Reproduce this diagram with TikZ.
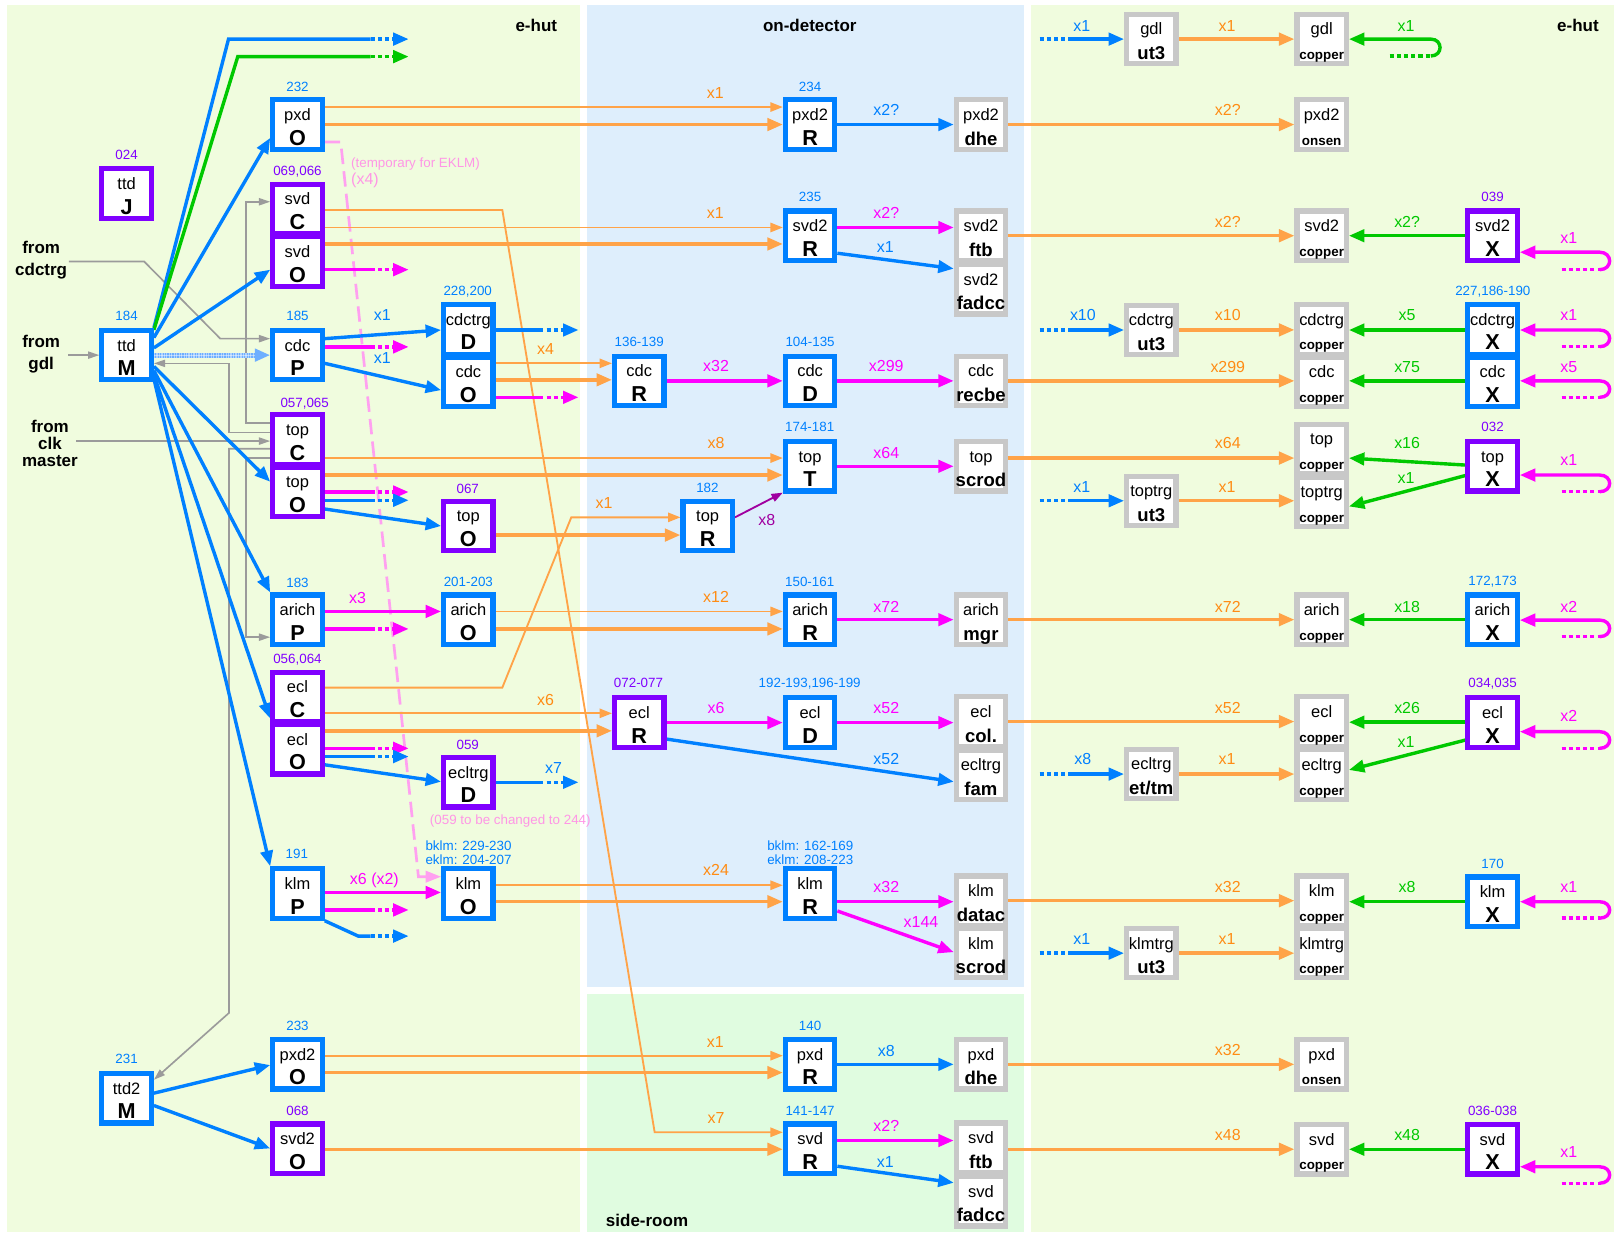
\documentclass[tikz,border=0pt]{standalone}
\usepackage{fontspec}
\setmainfont{Liberation Sans}
\usetikzlibrary{arrows.meta}
\pgfdeclarelayer{bg}
\pgfdeclarelayer{wires}
\pgfsetlayers{bg,wires,main}
\definecolor{cblue}{RGB}{0,128,255}
\definecolor{cpur}{RGB}{128,0,255}
\definecolor{cgbox}{RGB}{200,200,200}
\definecolor{corg}{RGB}{255,163,72}
\definecolor{corgt}{RGB}{255,140,20}
\definecolor{cmag}{RGB}{255,0,255}
\definecolor{cgrn}{RGB}{0,200,0}
\definecolor{cdmag}{RGB}{160,0,160}
\definecolor{cpink}{RGB}{255,160,240}
\definecolor{cpinkt}{RGB}{255,150,230}
\definecolor{cgray}{RGB}{155,155,155}
\definecolor{bgehut}{RGB}{240,252,222}
\definecolor{bgdet}{RGB}{222,238,252}
\definecolor{bgside}{RGB}{224,252,224}
\definecolor{chatch}{RGB}{110,175,255}
\tikzset{
  boxbase/.style={line width=5pt, fill=white, minimum width=48pt, minimum height=48pt, inner sep=0pt},
  bbox/.style={boxbase, draw=cblue},
  pbox/.style={boxbase, draw=cpur},
  gbox/.style={boxbase, draw=cgbox},
  toptxt/.style={anchor=base, inner sep=0pt, font=\fontsize{16}{16}\selectfont},
  bigl/.style={anchor=base, inner sep=0pt, font=\fontsize{21}{21}\selectfont\bfseries},
  medl/.style={anchor=base, inner sep=0pt, font=\fontsize{18}{18}\selectfont\bfseries},
  smll/.style={anchor=base, inner sep=0pt, font=\fontsize{13}{13}\selectfont\bfseries},
  numt/.style={inner sep=0pt, font=\fontsize{13}{13}\selectfont},
  numb/.style={numt, text=cblue},
  nump/.style={numt, text=cpur},
  labt/.style={inner sep=0pt, font=\fontsize{15.5}{15.5}\selectfont},
  lo/.style={labt, text=corgt},
  lb/.style={labt, text=cblue},
  lm/.style={labt, text=cmag},
  lg/.style={labt, text=cgrn},
  ttl/.style={inner sep=0pt, font=\fontsize{16.5}{16.5}\selectfont\bfseries},
  wthick/.style={line width=3.3pt},
  wblue/.style={wthick, draw=cblue},
  wmag/.style={wthick, draw=cmag},
  wgrn/.style={wthick, draw=cgrn},
  worg/.style={wthick, draw=corg},
  wthin/.style={line width=1.8pt, draw=corg},
  wgray/.style={line width=1.6pt, draw=cgray},
  dotseg/.style={dash pattern=on 4pt off 3pt},
  tipL/.style={-{Triangle[length=15pt,width=12pt]}},
  tipS/.style={-{Triangle[length=12pt,width=9pt]}},
  tipG/.style={-{Triangle[length=11pt,width=7pt]}},
}
\newcommand\mkbox[7]{%
  \node[#4] (#1) at (#2,#3) {};
  \node[toptxt] (#1-t) at (#2,#3-4) {#5};
  \node[#7] (#1-b) at (#2,#3+20) {#6};}
\newcommand\sdarrow[4]{%
  \draw[#1] #2 -- #3;
  \draw[#1,dotseg,tipL] #3 -- #4;}
\newcommand\xloop[4]{%
  \draw[#1,dotseg] (1517,#4) -- (1554,#4);
  \draw[#1,tipL] (1554,#4) .. controls (1567,#4) and (1567,#3) .. (1554,#3) -- (#2.east |- 0,#3);}
\newcommand\utin[2]{%
  \draw[wblue,dotseg] (1010,#2) -- (1040,#2);
  \draw[wblue,tipL] (1040,#2) -- (#1.west |- 0,#2);}
\begin{document}
\begin{tikzpicture}[x=1pt,y=-1pt]
\useasboundingbox (0,0) rectangle (1568,1199);
\begin{pgfonlayer}{bg}
\fill[white] (0,0) rectangle (1568,1199);
\fill[bgehut] (7,5) rectangle (563,1197);
\fill[bgdet] (570,5) rectangle (995,959);
\fill[bgside] (570,966) rectangle (995,1197);
\fill[bgehut] (1002,5) rectangle (1568,1197);
\end{pgfonlayer}

% titles
\node[ttl] (tEhutL) at (521,24.3) {e-hut};
\node[ttl] (tOnDet) at (786.7,24.3) {on-detector};
\node[ttl] (tEhutR) at (1533,24.3) {e-hut};
\node[ttl] (tSide) at (628.6,1185.3) {side-room};
\node[ttl,anchor=base] (fr1) at (40,246.6) {from};
\node[ttl,anchor=base] (fr2) at (40,267.7) {cdctrg};
\node[ttl,anchor=base] (fr3) at (40,338) {from};
\node[ttl,anchor=base] (fr4) at (40,359) {gdl};
\node[ttl,anchor=base] (fr5) at (48.5,420.5) {from};
\node[ttl,anchor=base] (fr6) at (48.5,436.7) {clk};
\node[ttl,anchor=base] (fr7) at (48.5,453.6) {master};

% boxes
\mkbox{ttdJ}{123}{188}{pbox}{ttd}{J}{bigl}
\mkbox{ttdM}{123}{345}{bbox}{ttd}{M}{bigl}
\mkbox{ttdTwoM}{123}{1067}{bbox}{ttd2}{M}{bigl}
\mkbox{pxdO}{289}{121}{bbox}{pxd}{O}{bigl}
\mkbox{svdC}{289}{203}{pbox}{svd}{C}{bigl}
\mkbox{svdO}{289}{254}{pbox}{svd}{O}{bigl}
\mkbox{cdcP}{289}{345}{bbox}{cdc}{P}{bigl}
\mkbox{topC}{289}{427}{pbox}{top}{C}{bigl}
\mkbox{topO}{289}{478}{pbox}{top}{O}{bigl}
\mkbox{arichP}{289}{602}{bbox}{arich}{P}{bigl}
\mkbox{eclC}{289}{677}{pbox}{ecl}{C}{bigl}
\mkbox{eclO}{289}{728}{pbox}{ecl}{O}{bigl}
\mkbox{klmP}{289}{868}{bbox}{klm}{P}{bigl}
\mkbox{pxdTwoO}{289}{1034}{bbox}{pxd2}{O}{bigl}
\mkbox{svdTwoO}{289}{1116}{pbox}{svd2}{O}{bigl}
\mkbox{cdctrgD}{455}{320}{bbox}{cdctrg}{D}{bigl}
\mkbox{cdcO}{455}{371}{bbox}{cdc}{O}{bigl}
\mkbox{topOb}{455}{511}{pbox}{top}{O}{bigl}
\mkbox{arichO}{455}{602}{bbox}{arich}{O}{bigl}
\mkbox{ecltrgD}{455}{760}{pbox}{ecltrg}{D}{bigl}
\mkbox{klmO}{455}{868}{bbox}{klm}{O}{bigl}
\mkbox{cdcR}{621}{370}{bbox}{cdc}{R}{bigl}
\mkbox{eclR}{621}{702}{pbox}{ecl}{R}{bigl}
\mkbox{topR}{687.5}{511}{bbox}{top}{R}{bigl}
\mkbox{pxdTwoR}{787}{121}{bbox}{pxd2}{R}{bigl}
\mkbox{svdTwoR}{787}{229}{bbox}{svd2}{R}{bigl}
\mkbox{cdcD}{787}{370}{bbox}{cdc}{D}{bigl}
\mkbox{topT}{787}{453}{bbox}{top}{T}{bigl}
\mkbox{arichR}{787}{602}{bbox}{arich}{R}{bigl}
\mkbox{eclD}{787}{702}{bbox}{ecl}{D}{bigl}
\mkbox{klmR}{787}{868}{bbox}{klm}{R}{bigl}
\mkbox{pxdR}{787}{1034}{bbox}{pxd}{R}{bigl}
\mkbox{svdR}{787}{1116}{bbox}{svd}{R}{bigl}
\mkbox{pxdTwoDhe}{953}{121}{gbox}{pxd2}{dhe}{medl}
\mkbox{svdTwoFtb}{953}{229}{gbox}{svd2}{ftb}{medl}
\mkbox{svdTwoFadcc}{953}{281}{gbox}{svd2}{fadcc}{medl}
\mkbox{cdcRecbe}{953}{370}{gbox}{cdc}{recbe}{medl}
\mkbox{topScrod}{953}{453}{gbox}{top}{scrod}{medl}
\mkbox{arichMgr}{953}{602}{gbox}{arich}{mgr}{medl}
\mkbox{eclCol}{953}{701}{gbox}{ecl}{col.}{medl}
\mkbox{ecltrgFam}{953}{753}{gbox}{ecltrg}{fam}{medl}
\mkbox{klmDatac}{953}{875}{gbox}{klm}{datac}{medl}
\mkbox{klmScrod}{953}{926}{gbox}{klm}{scrod}{medl}
\mkbox{pxdDhe}{953}{1034}{gbox}{pxd}{dhe}{medl}
\mkbox{svdFtb}{953}{1115}{gbox}{svd}{ftb}{medl}
\mkbox{svdFadcc}{953}{1167}{gbox}{svd}{fadcc}{medl}
\mkbox{gdlUt}{1118.5}{38}{gbox}{gdl}{ut3}{medl}
\mkbox{cdctrgUt}{1118.5}{320.5}{gbox}{cdctrg}{ut3}{medl}
\mkbox{toptrgUt}{1118.5}{486.5}{gbox}{toptrg}{ut3}{medl}
\mkbox{ecltrgEt}{1118.5}{752}{gbox}{ecltrg}{et/tm}{medl}
\mkbox{klmtrgUt}{1118.5}{926}{gbox}{klmtrg}{ut3}{medl}
\mkbox{gdlCu}{1284}{38}{gbox}{gdl}{copper}{smll}
\mkbox{pxdTwoOnsen}{1284}{121}{gbox}{pxd2}{onsen}{smll}
\mkbox{svdTwoCu}{1284}{229}{gbox}{svd2}{copper}{smll}
\mkbox{cdctrgCu}{1284}{320}{gbox}{cdctrg}{copper}{smll}
\mkbox{cdcCu}{1284}{371}{gbox}{cdc}{copper}{smll}
\mkbox{topCu}{1284}{436}{gbox}{top}{copper}{smll}
\mkbox{toptrgCu}{1284}{487.5}{gbox}{toptrg}{copper}{smll}
\mkbox{arichCu}{1284}{602}{gbox}{arich}{copper}{smll}
\mkbox{eclCu}{1284}{701}{gbox}{ecl}{copper}{smll}
\mkbox{ecltrgCu}{1284}{752.5}{gbox}{ecltrg}{copper}{smll}
\mkbox{klmCu}{1284}{875}{gbox}{klm}{copper}{smll}
\mkbox{klmtrgCu}{1284}{926}{gbox}{klmtrg}{copper}{smll}
\mkbox{pxdOnsen}{1284}{1034}{gbox}{pxd}{onsen}{smll}
\mkbox{svdCu}{1284}{1116.5}{gbox}{svd}{copper}{smll}
\mkbox{svdTwoX}{1450}{229}{pbox}{svd2}{X}{bigl}
\mkbox{cdctrgX}{1450}{320}{bbox}{cdctrg}{X}{bigl}
\mkbox{cdcX}{1450}{371}{bbox}{cdc}{X}{bigl}
\mkbox{topX}{1450}{453}{pbox}{top}{X}{bigl}
\mkbox{arichX}{1450}{602}{bbox}{arich}{X}{bigl}
\mkbox{eclX}{1450}{702}{pbox}{ecl}{X}{bigl}
\mkbox{klmX}{1450}{876}{bbox}{klm}{X}{bigl}
\mkbox{svdX}{1450}{1116.5}{pbox}{svd}{X}{bigl}

% numbers
\node[nump] (n024) at (123,150) {024};
\node[numb] (n184) at (123,307) {184};
\node[numb] (n231) at (123,1029) {231};
\node[numb] (n232) at (289,84.2) {232};
\node[nump] (n069) at (289,166.8) {069,066};
\node[numb] (n185) at (289,307) {185};
\node[nump] (n057) at (296,392.5) {057,065};
\node[numb] (n183) at (289,566.7) {183};
\node[nump] (n056) at (289,641.2) {056,064};
\node[numb] (n191) at (288.4,830) {191};
\node[numb] (n233) at (289,996.5) {233};
\node[nump] (n068) at (289,1079) {068};
\node[numb] (n228) at (454.4,283.4) {228,200};
\node[nump] (n067) at (454.4,475.4) {067};
\node[numb] (n201) at (455,565) {201-203};
\node[nump] (n059) at (454.4,723.8) {059};
\node[numb] (n136) at (621,332.6) {136-139};
\node[nump] (n072) at (620.3,663.9) {072-077};
\node[numb] (n182) at (687.3,473.5) {182};
\node[numb] (n234) at (787,84.2) {234};
\node[numb] (n235) at (787,191.7) {235};
\node[numb] (n104) at (787,332.6) {104-135};
\node[numb] (n174) at (786.6,415) {174-181};
\node[numb] (n150) at (786.6,565) {150-161};
\node[numb] (n192) at (786.6,664) {192-193,196-199};
\node[numb] (n140) at (787,996.5) {140};
\node[numb] (n141) at (787,1079) {141-147};
\node[nump] (n039) at (1450,191.7) {039};
\node[numb] (n227) at (1450.3,283.4) {227,186-190};
\node[nump] (n032) at (1450,415) {032};
\node[numb] (n172) at (1450,565) {172,173};
\node[nump] (n034) at (1450,664) {034,035};
\node[numb] (n170) at (1450,838.8) {170};
\node[nump] (n036) at (1450,1079) {036-038};
\node[numb,anchor=west] (nbk1) at (413.2,822) {bklm: 229-230};
\node[numb,anchor=west] (nek1) at (413.2,835) {eklm: 204-207};
\node[numb,anchor=west] (nbk2) at (745.2,822) {bklm: 162-169};
\node[numb,anchor=west] (nek2) at (745.2,835) {eklm: 208-223};
\node[numt,text=cpinkt,anchor=west] (pk1) at (341,159) {(temporary for EKLM)};
\node[labt,text=cpinkt,anchor=west] (pk2) at (341,175) {(x4)};
\node[numt,text=cpinkt,anchor=west] (pk3) at (417.5,797.3) {(059 to be changed to 244)};

% free ends
\coordinate (eBlueTop) at (397,38);
\coordinate (eGrnTop) at (397,55);
\coordinate (eSvdO) at (397,262);
\coordinate (eCdcP) at (397,337);
\coordinate (eCdctrgD) at (562,320.6);
\coordinate (eCdcO) at (562,386);
\coordinate (eTopOm) at (397,478);
\coordinate (eTopOb) at (397,486);
\coordinate (eArichP) at (397,611);
\coordinate (eEclOm) at (397,727);
\coordinate (eEclOb) at (397,735);
\coordinate (eEcltrgD) at (562,760);
\coordinate (eKlmPm) at (397,884);
\coordinate (eKlmPb) at (397,909.4);
\coordinate (fCdctrg) at (67,254);
\coordinate (fGdl) at (66.5,345);
\coordinate (fClk) at (74,428.5);

\begin{pgfonlayer}{wires}
% gray
\draw[wgray,tipG] (fCdctrg) -- (140,254) -- (214,329) -- (cdcP.west |- 0,329);
\draw[wgray,tipG] (fGdl) -- (ttdM.west);
\draw[wgray,tipG] (fClk) -- (topC.west |- 0,428.5);
\draw[wgray,tipG] (topC.west |- 0,411) -- (239,411) -- (239,196) -- (svdC.west |- 0,196);
\draw[wgray,tipG] (topC.west |- 0,420) -- (222.5,420) -- (222.5,353) -- (ttdM.east |- 0,353);
\draw[wgray,tipG] (topC.west |- 0,436) -- (222.5,436) -- (222.5,984) -- (ttdTwoM.east |- 0,1049);
\draw[wgray,tipG] (topC.west |- 0,445) -- (239,445) -- (239,619) -- (arichP.west |- 0,619);
% ttd M fan
\draw[wblue] (ttdM.north east) -- (222,38) -- (360,38);
\draw[wblue,dotseg,tipL] (360,38) -- (eBlueTop);
\draw[wgrn] ([yshift=-2pt]ttdM.north east) -- (231,55) -- (360,55);
\draw[wgrn,dotseg,tipL] (360,55) -- (eGrnTop);
\draw[wblue,tipL] (ttdM.east |- 0,328) -- (pxdO.west |- 0,134);
\draw[wblue,tipL] (ttdM.east |- 0,338) -- (svdO.west |- 0,262);
\draw[line width=5pt, draw=chatch, -{Triangle[length=15pt,width=12pt]}] (ttdM.east) -- (cdcP.west);
\draw[line width=5pt, white, opacity=0.45, dash pattern=on 1.2pt off 1.2pt, shorten >=15pt] (ttdM.east) -- (cdcP.west);
\draw[line width=1pt, white, opacity=0.45, shorten >=15pt] (ttdM.east) -- (cdcP.west);
\draw[wblue,tipL] (ttdM.east |- 0,356) -- (topO.west |- 0,468);
\draw[wblue,tipL] (ttdM.east |- 0,360) -- (arichP.north west);
\draw[wblue,tipL] (ttdM.east |- 0,364) -- (eclC.west |- 0,698);
\draw[wblue,tipL] (ttdM.east |- 0,368) -- (klmP.north west);
\draw[wblue,tipL] (ttdTwoM.east |- 0,1062) -- (pxdTwoO.west |- 0,1034.7);
\draw[wblue,tipL] (ttdTwoM.east |- 0,1074) -- (svdTwoO.west |- 0,1115.7);
% pink dashed
\draw[line width=2.6pt, draw=cpink, dash pattern=on 15pt off 7pt, -{Triangle[length=15pt,width=11pt]}] (pxdO.east |- 0,138) -- (331,138) -- (406.5,851.7) -- (klmO.west |- 0,851.7);
% orange thin
\draw[wthin,tipS] (pxdO.east |- 0,104) -- (pxdTwoR.west |- 0,104);
\draw[wthin,tipS] (svdC.east |- 0,204) -- (488,204) -- (636,1100) -- (svdR.west |- 0,1100);
\draw[wthin,tipS] (svdC.east |- 0,221) -- (svdTwoR.west |- 0,221);
\draw[wthin,tipS] (cdcO.east |- 0,353) -- (cdcR.west |- 0,353);
\draw[wthin,tipS] (topC.east |- 0,445) -- (topT.west |- 0,445);
\draw[wthin,tipS] (eclC.east |- 0,668) -- (488,668) -- (555,502.6) -- (topR.west |- 0,502.6);
\draw[wthin,tipS] (arichO.east |- 0,594) -- (arichR.west |- 0,594);
\draw[wthin,tipS] (eclC.east |- 0,693) -- (eclR.west |- 0,693);
\draw[wthin,tipS] (klmO.east |- 0,860) -- (klmR.west |- 0,860);
\draw[wthin,tipS] (pxdTwoO.east |- 0,1025.6) -- (pxdR.west |- 0,1025.6);
% orange thick
\draw[worg,tipL] (pxdO.east) -- (pxdTwoR.west);
\draw[worg,tipL] (svdO.east |- 0,237) -- (svdTwoR.west |- 0,237);
\draw[worg,tipL] (cdcO.east |- 0,369) -- (cdcR.west |- 0,369);
\draw[worg,tipL] (topO.east |- 0,461.5) -- (topT.west |- 0,461.5);
\draw[worg,tipL] (topOb.east |- 0,519.8) -- (topR.west |- 0,519.8);
\draw[worg,tipL] (arichO.east |- 0,611) -- (arichR.west |- 0,611);
\draw[worg,tipL] (eclO.east |- 0,710) -- (eclR.west |- 0,710);
\draw[worg,tipL] (klmO.east |- 0,876) -- (klmR.west |- 0,876);
\draw[worg,tipL] (pxdTwoO.east |- 0,1042) -- (pxdR.west |- 0,1042);
\draw[worg,tipL] (svdTwoO.east |- 0,1116.5) -- (svdR.west |- 0,1116.5);
\draw[worg,tipL] (gdlUt.east) -- (gdlCu.west);
\draw[worg,tipL] (pxdTwoDhe.east) -- (pxdTwoOnsen.west);
\draw[worg,tipL] (svdTwoFtb.east) -- (svdTwoCu.west);
\draw[worg,tipL] (cdctrgUt.east |- 0,320.5) -- (cdctrgCu.west |- 0,320.5);
\draw[worg,tipL] (cdcRecbe.east) -- (cdcCu.west |- 0,370);
\draw[worg,tipL] (topScrod.east |- 0,445) -- (topCu.west |- 0,445);
\draw[worg,tipL] (toptrgUt.east |- 0,486.5) -- (toptrgCu.west |- 0,486.5);
\draw[worg,tipL] (arichMgr.east) -- (arichCu.west);
\draw[worg,tipL] (eclCol.east) -- (eclCu.west);
\draw[worg,tipL] (ecltrgEt.east) -- (ecltrgCu.west |- 0,752);
\draw[worg,tipL] (klmDatac.east) -- (klmCu.west);
\draw[worg,tipL] (klmtrgUt.east) -- (klmtrgCu.west);
\draw[worg,tipL] (pxdDhe.east) -- (pxdOnsen.west);
\draw[worg,tipL] (svdFtb.east |- 0,1116.5) -- (svdCu.west);
% magenta
\sdarrow{wmag}{(svdO.east |- 0,262)}{(360,262)}{(eSvdO)}
\sdarrow{wmag}{(cdcP.east |- 0,337)}{(360,337)}{(eCdcP)}
\sdarrow{wmag}{(cdcO.east |- 0,386)}{(524,386)}{(eCdcO)}
\sdarrow{wmag}{(topO.east |- 0,478)}{(360,478)}{(eTopOm)}
\draw[wmag,tipL] (arichP.east |- 0,594) -- (arichO.west |- 0,594);
\sdarrow{wmag}{(arichP.east |- 0,611)}{(360,611)}{(eArichP)}
\sdarrow{wmag}{(eclO.east |- 0,727)}{(360,727)}{(eEclOm)}
\draw[wmag,tipL] (klmP.east |- 0,867) -- (klmO.west |- 0,867);
\sdarrow{wmag}{(klmP.east |- 0,884)}{(360,884)}{(eKlmPm)}
\draw[wmag,tipL] (svdTwoR.east |- 0,221) -- (svdTwoFtb.west |- 0,221);
\draw[wmag,tipL] (cdcR.east) -- (cdcD.west);
\draw[wmag,tipL] (cdcD.east) -- (cdcRecbe.west);
\draw[wmag,tipL] (topT.east) -- (topScrod.west);
\draw[wmag,tipL] (arichR.east) -- (arichMgr.west);
\draw[wmag,tipL] (eclR.east) -- (eclD.west);
\draw[wmag,tipL] (eclD.east) -- (eclCol.west |- 0,702);
\draw[wmag,tipL] (klmR.east |- 0,876) -- (klmDatac.west |- 0,876);
\draw[wmag,tipL] (klmR.east |- 0,885) -- (klmScrod.west |- 0,925);
\draw[wmag,tipL] (svdR.east |- 0,1108) -- (svdFtb.west |- 0,1108);
\xloop{wmag}{svdTwoX}{245}{262}
\xloop{wmag}{cdctrgX}{320.6}{336.8}
\xloop{wmag}{cdcX}{370}{386}
\xloop{wmag}{topX}{461.5}{477.7}
\xloop{wmag}{arichX}{602.4}{618.5}
\xloop{wmag}{eclX}{710.8}{727}
\xloop{wmag}{klmX}{876}{892}
\xloop{wmag}{svdX}{1133.5}{1149.5}
% blue
\draw[wblue,tipL] (cdcP.east |- 0,329) -- (cdctrgD.west |- 0,320.6);
\draw[wblue,tipL] (cdcP.east |- 0,353) -- (cdcO.west |- 0,379);
\sdarrow{wblue}{(cdctrgD.east |- 0,320.6)}{(524,320.6)}{(eCdctrgD)}
\sdarrow{wblue}{(topO.east |- 0,486)}{(360,486)}{(eTopOb)}
\draw[wblue,tipL] (topO.east |- 0,494.5) -- (topOb.west |- 0,511);
\sdarrow{wblue}{(eclO.east |- 0,735)}{(360,735)}{(eEclOb)}
\draw[wblue,tipL] (eclO.east |- 0,743) -- (ecltrgD.west |- 0,759.4);
\sdarrow{wblue}{(ecltrgD.east |- 0,760)}{(524,760)}{(eEcltrgD)}
\draw[wblue] (klmP.south east) -- (348,909.4) -- (360,909.4);
\draw[wblue,dotseg,tipL] (360,909.4) -- (eKlmPb);
\draw[wblue,tipL] (pxdTwoR.east) -- (pxdTwoDhe.west);
\draw[wblue,tipL] (svdTwoR.east |- 0,246) -- (svdTwoFadcc.west |- 0,261);
\draw[wblue,tipL] (eclR.east |- 0,718) -- (ecltrgFam.west |- 0,759.4);
\draw[wblue,tipL] (pxdR.east) -- (pxdDhe.west);
\draw[wblue,tipL] (svdR.east |- 0,1133) -- (svdFadcc.west |- 0,1149);
\utin{gdlUt}{38}
\utin{cdctrgUt}{320.6}
\utin{toptrgUt}{486.5}
\utin{ecltrgEt}{752}
\utin{klmtrgUt}{926}
% dark magenta
\draw[line width=1.8pt, draw=cdmag, -{Triangle[length=11pt,width=8pt]}] (topR.east |- 0,502.6) -- (topT.west |- 0,478.6);
% green
\draw[wgrn,dotseg] (1350,54.4) -- (1390,54.4);
\draw[wgrn,tipL] (1390,54.4) .. controls (1402,54.4) and (1402,38) .. (1390,38) -- (gdlCu.east);
\draw[wgrn,tipL] (svdTwoX.west) -- (svdTwoCu.east);
\draw[wgrn,tipL] (cdctrgX.west |- 0,320.6) -- (cdctrgCu.east |- 0,320.6);
\draw[wgrn,tipL] (cdcX.west |- 0,370) -- (cdcCu.east |- 0,370);
\draw[wgrn,tipL] (topX.west |- 0,451.8) -- (topCu.east |- 0,445);
\draw[wgrn,tipL] (topX.west |- 0,462) -- (toptrgCu.east |- 0,492);
\draw[wgrn,tipL] (arichX.west) -- (arichCu.east);
\draw[wgrn,tipL] (eclX.west |- 0,701.6) -- (eclCu.east |- 0,701.6);
\draw[wgrn,tipL] (eclX.west |- 0,719) -- (ecltrgCu.east |- 0,748);
\draw[wgrn,tipL] (klmX.west) -- (klmCu.east |- 0,876);
\draw[wgrn,tipL] (svdX.west) -- (svdCu.east);
\end{pgfonlayer}

% orange labels
\node[lo] (lo1) at (695,90.7) {x1};
\node[lo] (lo2) at (695,207.3) {x1};
\node[lo] (lo3) at (530,339) {x4};
\node[lo] (lo4) at (695.6,430.7) {x8};
\node[lo] (lo5) at (586.8,489) {x1};
\node[lo] (lo6) at (695.6,580.3) {x12};
\node[lo] (lo7) at (530,680) {x6};
\node[lo] (lo8) at (695.6,845.2) {x24};
\node[lo] (lo9) at (695,1012) {x1};
\node[lo] (lo10) at (695.6,1086.5) {x7};
\node[lo] (lo11) at (1192,25.3) {x1};
\node[lo] (lo12) at (1192.8,107) {x2?};
\node[lo] (lo13) at (1192.8,215.4) {x2?};
\node[lo] (lo14) at (1192.8,306) {x10};
\node[lo] (lo15) at (1192.8,356.9) {x299};
\node[lo] (lo16) at (1192.8,430.7) {x64};
\node[lo] (lo17) at (1192,472.8) {x1};
\node[lo] (lo18) at (1192.8,589.4) {x72};
\node[lo] (lo19) at (1192.8,688) {x52};
\node[lo] (lo20) at (1192,737.7) {x1};
\node[lo] (lo21) at (1192.8,862) {x32};
\node[lo] (lo22) at (1192,912.6) {x1};
\node[lo] (lo23) at (1192.8,1020) {x32};
\node[lo] (lo24) at (1192.8,1102.7) {x48};
% blue labels
\node[lb] (lb1) at (371.4,306) {x1};
\node[lb] (lb2) at (371.4,348) {x1};
\node[lb] (lb3) at (537.7,746.5) {x7};
\node[lb] (lb4) at (861,107) {x2?};
\node[lb] (lb5) at (860,240) {x1};
\node[lb] (lb6) at (861,737.7) {x52};
\node[lb] (lb7) at (861,1020.8) {x8};
\node[lb] (lb8) at (860,1128.6) {x1};
\node[lb] (lb9) at (1051,25.3) {x1};
\node[lb] (lb10) at (1052,306) {x10};
\node[lb] (lb11) at (1051,472.8) {x1};
\node[lb] (lb12) at (1052,737.7) {x8};
\node[lb] (lb13) at (1051,912.6) {x1};
% magenta labels
\node[lm] (lm1) at (347.3,580.7) {x3};
\node[lm] (lm2) at (363.7,855) {x6 (x2)};
\node[lm] (lm3) at (861,207.3) {x2?};
\node[lm] (lm4) at (695.6,356) {x32};
\node[lm] (lm5) at (861,356) {x299};
\node[lm] (lm6) at (861,439.8) {x64};
\node[lm] (lm7) at (861,589.4) {x72};
\node[lm] (lm8) at (695.6,688) {x6};
\node[lm] (lm9) at (861,688) {x52};
\node[lm] (lm10) at (861,862) {x32};
\node[lm] (lm11) at (894.7,895.4) {x144};
\node[lm] (lm12) at (861,1094) {x2?};
\node[lm] (lm13) at (1524,231.5) {x1};
\node[lm] (lm14) at (1524,306) {x1};
\node[lm] (lm15) at (1524,356.9) {x5};
\node[lm] (lm16) at (1524,447) {x1};
\node[lm] (lm17) at (1524,589.4) {x2};
\node[lm] (lm18) at (1524,696) {x2};
\node[lm] (lm19) at (1524,862) {x1};
\node[lm] (lm20) at (1524,1119.5) {x1};
\node[labt,text=cdmag] (ld1) at (745,505) {x8};
% green labels
\node[lg] (lg1) at (1366,25.3) {x1};
\node[lg] (lg2) at (1367,215.4) {x2?};
\node[lg] (lg3) at (1367,306) {x5};
\node[lg] (lg4) at (1367,356.9) {x75};
\node[lg] (lg5) at (1367,430.7) {x16};
\node[lg] (lg6) at (1366,464.7) {x1};
\node[lg] (lg7) at (1367,589.4) {x18};
\node[lg] (lg8) at (1367,688) {x26};
\node[lg] (lg9) at (1366,721) {x1};
\node[lg] (lg10) at (1367,862) {x8};
\node[lg] (lg11) at (1367,1102.7) {x48};
\end{tikzpicture}
\end{document}
